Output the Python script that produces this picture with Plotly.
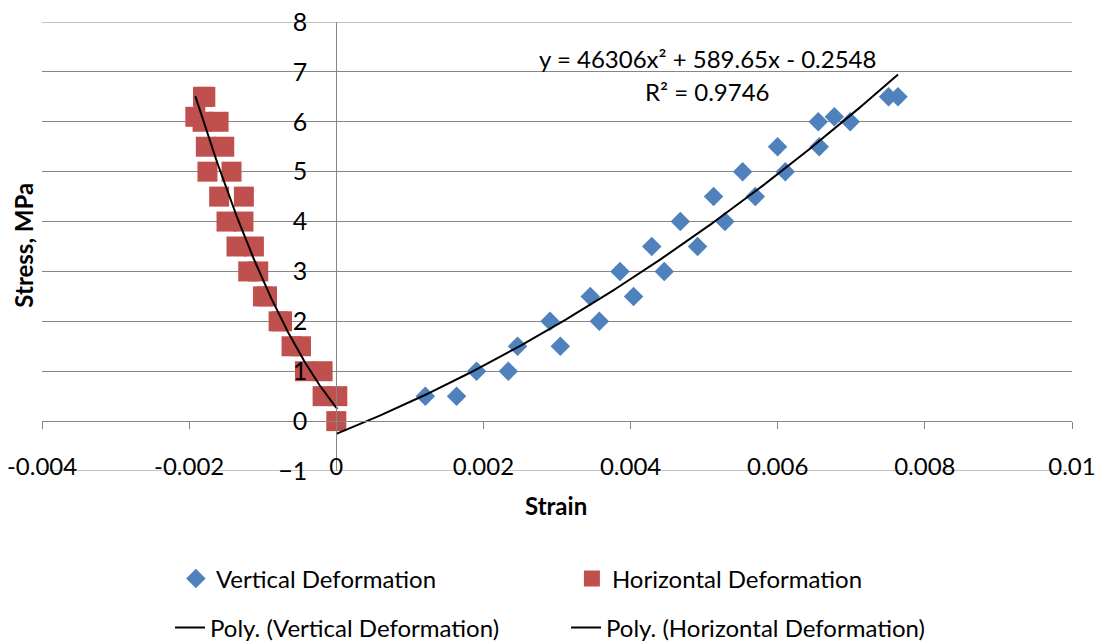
import numpy as np
import plotly.graph_objects as go

# Stress levels (MPa) shared by both loading directions
v_stress = [0, 0.5, 0.5, 1, 1, 1.5, 1.5, 2, 2, 2.5, 2.5, 3, 3, 3.5, 3.5,
            4, 4, 4.5, 4.5, 5, 5, 5.5, 5.5, 6, 6, 6.1, 6.5, 6.5]
v_strain = [0, 0.001210, 0.001635, 0.001907, 0.002338, 0.002464, 0.003045,
            0.002905, 0.003575, 0.003452, 0.004041, 0.003856, 0.004458,
            0.004288, 0.004911, 0.004676, 0.005283, 0.005128, 0.005695,
            0.005523, 0.006103, 0.005998, 0.006565, 0.006551, 0.006986,
            0.006769, 0.007507, 0.007635]

h_stress = [0, 0.5, 0.5, 1, 1, 1.5, 1.5, 2, 2, 2.5, 2.5, 3, 3, 3.5, 3.5,
            4, 4, 4.5, 4.5, 5, 5, 5.5, 5.5, 6, 6, 6.1, 6.5, 6.5]
h_strain = [0, -0.000186, 0.000014, -0.000426, -0.000186, -0.000608,
            -0.000480, -0.000784, -0.000738, -0.000997, -0.000942,
            -0.001197, -0.001061, -0.001356, -0.001120, -0.001492,
            -0.001262, -0.001592, -0.001256, -0.001751, -0.001424,
            -0.001773, -0.001523, -0.001817, -0.001600, -0.001916,
            -0.001812, -0.001780]

# Second-order trendline coefficients for the vertical series (as labelled)
v_coef = [46306, 589.65, -0.2548]
v_r2 = 0.9746

x_range = [-0.004, 0.01]
y_range = [-1, 8]
x_ticks = [-0.004, -0.002, 0, 0.002, 0.004, 0.006, 0.008, 0.01]
x_ticktext = ["-0.004", "-0.002", "0", "0.002", "0.004", "0.006", "0.008", "0.01"]
y_ticks = [-1, 0, 1, 2, 3, 4, 5, 6, 7, 8]

FONT = "Lato"
GRID = "#868686"
BLUE = "#4F81BD"
RED = "#C0504D"

# Trendline curves over each series' strain range
vx = np.linspace(min(v_strain), max(v_strain), 200)
vy = np.polyval(v_coef, vx)
h_coef = np.polyfit(h_strain, h_stress, 2)
hx = np.linspace(min(h_strain), max(h_strain), 200)
hy = np.polyval(h_coef, hx)

fig = go.Figure()
fig.add_trace(go.Scatter(
    x=v_strain, y=v_stress, mode="markers", name="Vertical Deformation",
    marker=dict(symbol="diamond", size=15, color=BLUE), legend="legend"))
fig.add_trace(go.Scatter(
    x=h_strain, y=h_stress, mode="markers", name="Horizontal Deformation",
    marker=dict(symbol="square", size=20, color=RED), legend="legend"))
fig.add_trace(go.Scatter(
    x=vx, y=vy, mode="lines", name="Poly. (Vertical Deformation)",
    line=dict(color="black", width=2), legend="legend2"))
fig.add_trace(go.Scatter(
    x=hx, y=hy, mode="lines", name="Poly. (Horizontal Deformation)",
    line=dict(color="black", width=2), legend="legend2"))

# Boundary gridlines at the ends of the stress range
for yv in (y_range[0], y_range[1]):
    fig.add_shape(type="line", xref="paper", yref="y", x0=0, x1=1, y0=yv, y1=yv,
                  line=dict(color=GRID, width=1), layer="below")

eq_text = "y = {}x² + {}x - {}".format(v_coef[0], v_coef[1], abs(v_coef[2]))
fig.add_annotation(x=0.00505, y=7.26, xref="x", yref="y", text=eq_text,
                   showarrow=False, font=dict(family=FONT, size=24, color="black"))
fig.add_annotation(x=0.00505, y=6.60, xref="x", yref="y", text="R² = {}".format(v_r2),
                   showarrow=False, font=dict(family=FONT, size=24, color="black"))

# Axis titles
fig.add_annotation(x=-0.0175, y=0.504, xref="paper", yref="paper", text="<b>Stress, MPa</b>",
                   xanchor="center", yanchor="middle",
                   textangle=-90, showarrow=False, font=dict(family=FONT, size=24, color="black"))
fig.add_annotation(x=0.499, y=-0.076, xref="paper", yref="paper", text="<b>Strain</b>",
                   xanchor="center", yanchor="middle",
                   showarrow=False, font=dict(family=FONT, size=24, color="black"))

fig.update_layout(
    width=1095, height=641,
    margin=dict(l=42, r=23, t=22, b=170, autoexpand=False),
    paper_bgcolor="white", plot_bgcolor="white",
    font=dict(family=FONT, size=24, color="black"),
    showlegend=True,
    legend=dict(orientation="h", x=0.130, xanchor="left", y=-0.2405, yanchor="middle",
                entrywidth=351, entrywidthmode="pixels",
                font=dict(family=FONT, size=24), bgcolor="rgba(0,0,0,0)"),
    legend2=dict(orientation="h", x=0.1243, xanchor="left", y=-0.3497, yanchor="middle",
                 entrywidth=351, entrywidthmode="pixels",
                 font=dict(family=FONT, size=24), bgcolor="rgba(0,0,0,0)"),
    xaxis=dict(range=x_range, tickvals=x_ticks, ticktext=x_ticktext,
               showgrid=False, zeroline=False, showline=True, linecolor=GRID, linewidth=1,
               ticks="outside", ticklen=7, tickcolor=GRID, tickwidth=1,
               anchor="free", position=1/9, ticklabelstandoff=17,
               ticklabeloverflow="allow", automargin=False,
               tickfont=dict(family=FONT, size=24, color="black")),
    yaxis=dict(range=y_range, tickvals=y_ticks, showgrid=True, gridcolor=GRID, gridwidth=1,
               zeroline=False, showline=True, linecolor=GRID, linewidth=1,
               ticks="", anchor="free", position=4/14, ticklabelstandoff=24,
               ticklabeloverflow="allow", automargin=False,
               tickfont=dict(family=FONT, size=25, color="black")),
)

fig.write_html("out.html")
